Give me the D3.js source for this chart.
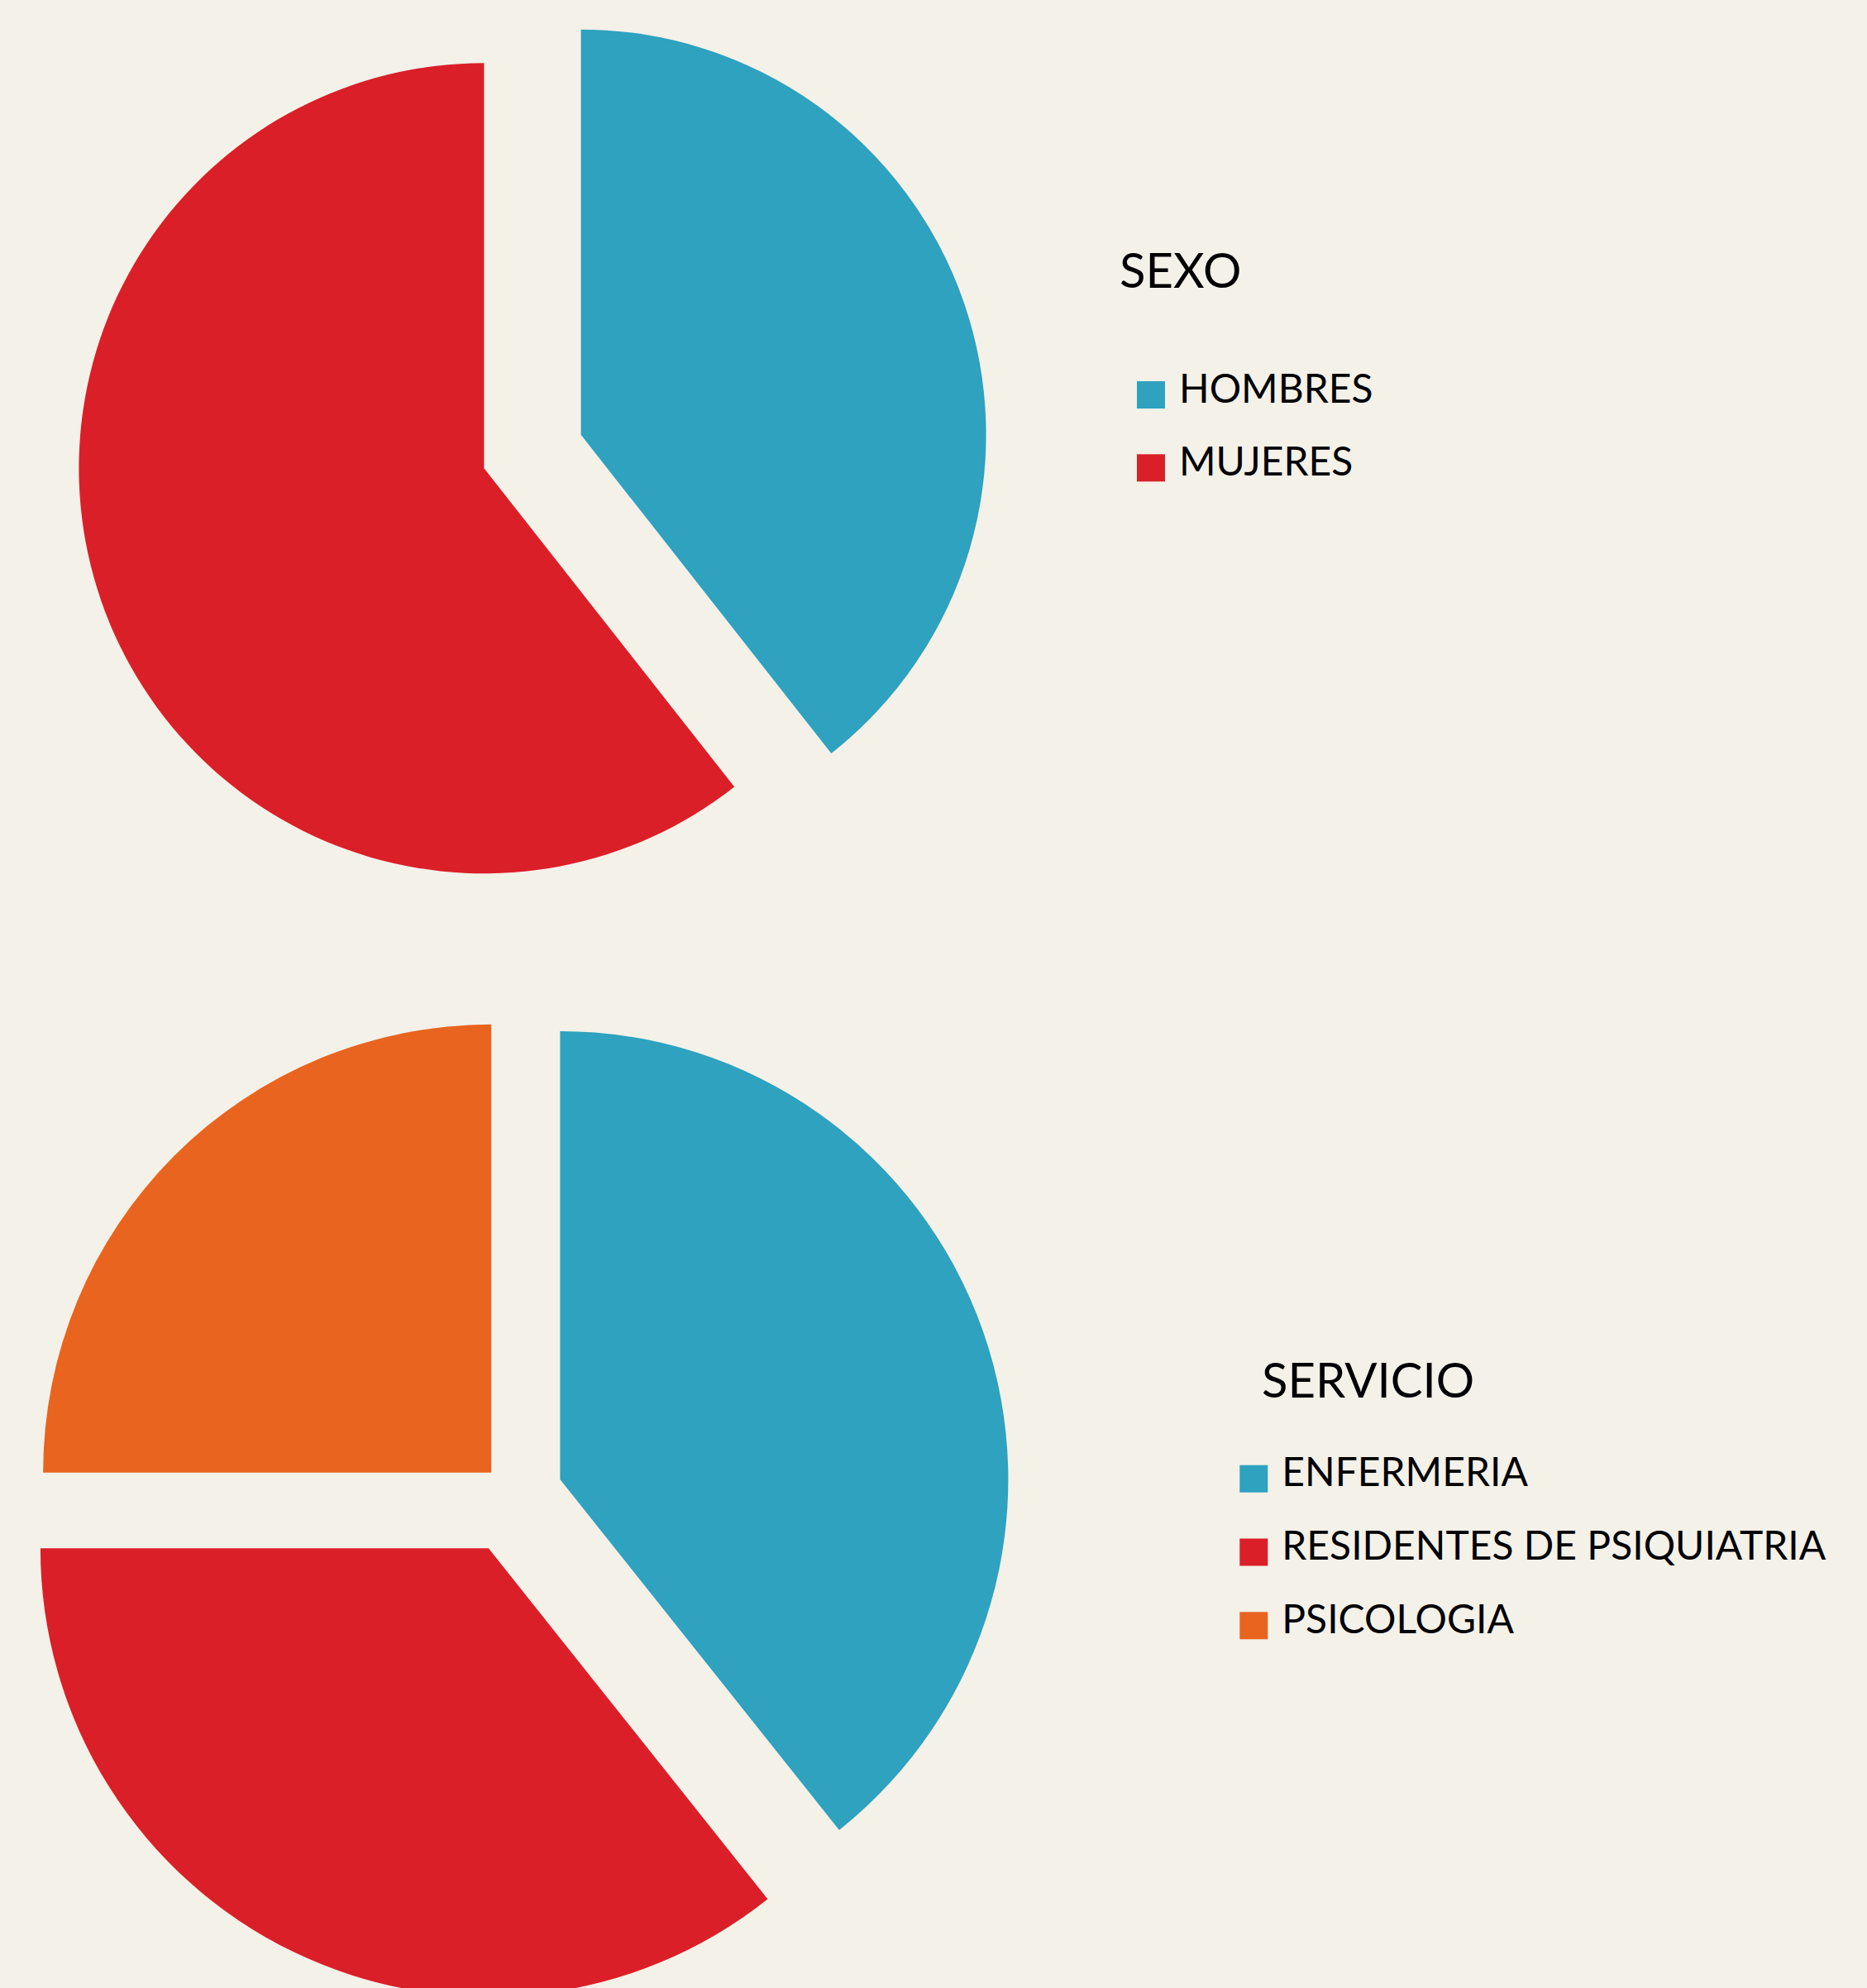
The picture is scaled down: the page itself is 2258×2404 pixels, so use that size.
<!DOCTYPE html>
<html>
<head>
<meta charset="utf-8">
<script src="https://cdn.jsdelivr.net/npm/d3@7"></script>
<style>
  body { margin: 0; background: #f4f1e9; }
  text { font-family: Lato, "Open Sans", sans-serif; fill: #000; }
</style>
</head>
<body>
<script>
// data
var sexoLabels = ["HOMBRES", "MUJERES"];
var sexoValues = [39.4, 60.6];
var servicioLabels = ["ENFERMERIA", "RESIDENTES DE PSIQUIATRIA", "PSICOLOGIA"];
var servicioValues = [39.3, 35.7, 25.0];

var colors = ["#2ea2bf", "#da1f28", "#e9641f"];

var svg = d3.select("body").append("svg")
    .attr("width", 2258)
    .attr("height", 2404);

var pie = d3.pie().sort(null).value(function(d) { return d; });

// draws one exploded pie
function drawPie(values, cx, cy, r, explode) {
    var arc = d3.arc().innerRadius(0).outerRadius(r);
    var g = svg.append("g").attr("transform", "translate(" + cx + "," + cy + ")");
    g.selectAll("path")
        .data(pie(values))
        .enter().append("path")
        .attr("fill", function(d, i) { return colors[i]; })
        .attr("transform", function(d, i) {
            var mid = (d.startAngle + d.endAngle) / 2;
            return "translate(" + (Math.sin(mid) * explode[i]) + "," + (-Math.cos(mid) * explode[i]) + ")";
        })
        .attr("d", arc);
}

// legend with title
function drawLegend(title, labels, x, y, swX, rowY, step) {
    var g = svg.append("g");
    g.append("text")
        .attr("x", x)
        .attr("y", y)
        .style("font-size", "58px")
        .text(title);
    labels.forEach(function(l, i) {
        g.append("rect")
            .attr("x", swX)
            .attr("y", rowY + i * step)
            .attr("width", 34)
            .attr("height", 33)
            .attr("fill", colors[i]);
        g.append("text")
            .attr("x", swX + 51)
            .attr("y", rowY + i * step + 25.5)
            .style("font-size", "48px")
            .text(l);
    });
}

drawPie(sexoValues, 644, 546, 490, [62, 62]);
drawPie(servicioValues, 621.7, 1808.4, 542, [59, 71, 39]);

drawLegend("SEXO", sexoLabels, 1354, 348, 1375, 461, 88.3);
drawLegend("SERVICIO", servicioLabels, 1526, 1690, 1499.3, 1771.7, 88.8);
</script>
</body>
</html>
